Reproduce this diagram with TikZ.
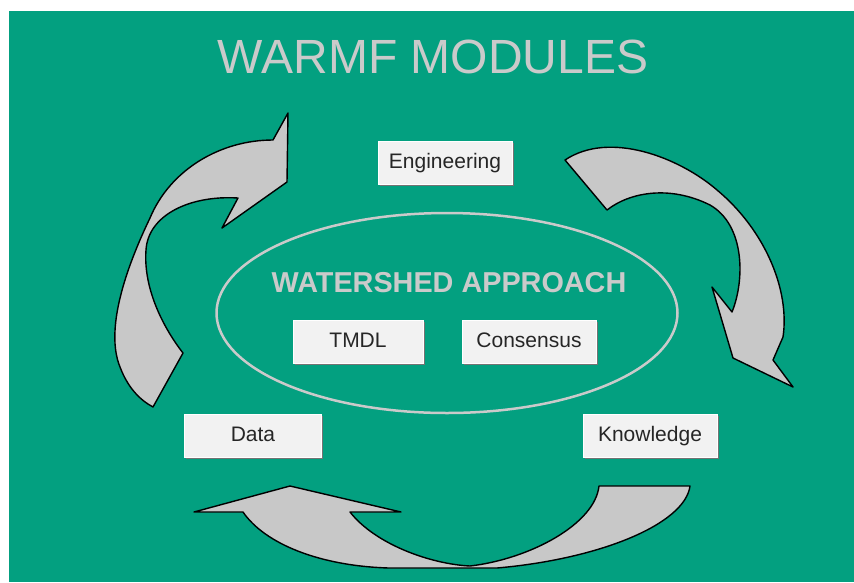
\documentclass[tikz,border=0pt]{standalone}
\usepackage{fontspec}
\setmainfont{Liberation Sans}
\usepackage{xcolor}
\usetikzlibrary{shapes.geometric,shadows}
\definecolor{bggreen}{RGB}{3,160,128}
\definecolor{ribbon}{RGB}{200,200,200}
\definecolor{titlegray}{RGB}{202,202,202}
\definecolor{boxfill}{RGB}{242,242,242}

\begin{document}
\begin{tikzpicture}[x=1pt,y=-1pt,
  module/.style={fill=boxfill,draw=white,line width=0.8pt,minimum width=134pt,
                 minimum height=43pt,text height=15pt,text depth=4pt,
                 font=\fontsize{21}{25}\selectfont,text=black!85,
                 general shadow={fill=black!55,shadow xshift=1.6pt,shadow yshift=-1.6pt}},
  band/.style={fill=ribbon,draw=black,line width=1.4pt,line join=round}]
  \useasboundingbox (0,0) rectangle (854,582);
  \fill[bggreen] (9,11) rectangle (854,582);
  \node[font=\fontsize{48}{52}\selectfont,text=titlegray] (title) at (433,57) {WARMF MODULES};
  % watershed approach
  \node[ellipse,draw=titlegray,line width=2.5pt,minimum width=461pt,minimum height=200pt,
        inner sep=0pt] (shed) at (447,313) {};
  \node[font=\bfseries\fontsize{28.8}{32}\selectfont,text=titlegray] (shedtitle) at (449,283)
    {WATERSHED APPROACH};
  \node[module] (eng)  at (445,163) {Engineering};
  \node[module,minimum width=130pt] (tmdl) at (358,342) {TMDL};
  \node[module] (cons) at (529,342) {Consensus};
  \node[module,minimum width=137pt] (data) at (253,436) {Data};
  \node[module] (know) at (650,436) {Knowledge};
  % cycle arrows
  \draw[band] (153,407) -- (183,353)
    .. controls (165,330) and (143,290) .. (146,250)
    .. controls (148,215) and (190,195) .. (238,198)
    -- (222,228) -- (287,182) -- (288,113) -- (273,140)
    .. controls (220,140) and (170,170) .. (150,218)
    .. controls (125,270) and (105,330) .. (120,367)
    .. controls (128,388) and (140,400) .. (153,407) -- cycle;
  \draw[band] (565,160) -- (607,210)
    .. controls (630,192) and (670,185) .. (710,205)
    .. controls (745,225) and (745,280) .. (732,312)
    -- (712,287) -- (733,358) -- (793,387) -- (773,360) -- (783,337)
    .. controls (790,290) and (765,230) .. (717,190)
    .. controls (680,158) and (610,130) .. (565,160) -- cycle;
  \draw[band] (599,486) -- (690,486)
    .. controls (685,524) and (600,559) .. (497,568) -- (389,568)
    .. controls (320,566) and (265,544) .. (243,512)
    -- (194,512) -- (290,486) -- (401,512) -- (350,512)
    .. controls (375,544) and (430,564) .. (470,566)
    .. controls (530,559) and (595,524) .. (599,486) -- cycle;
\end{tikzpicture}
\end{document}
